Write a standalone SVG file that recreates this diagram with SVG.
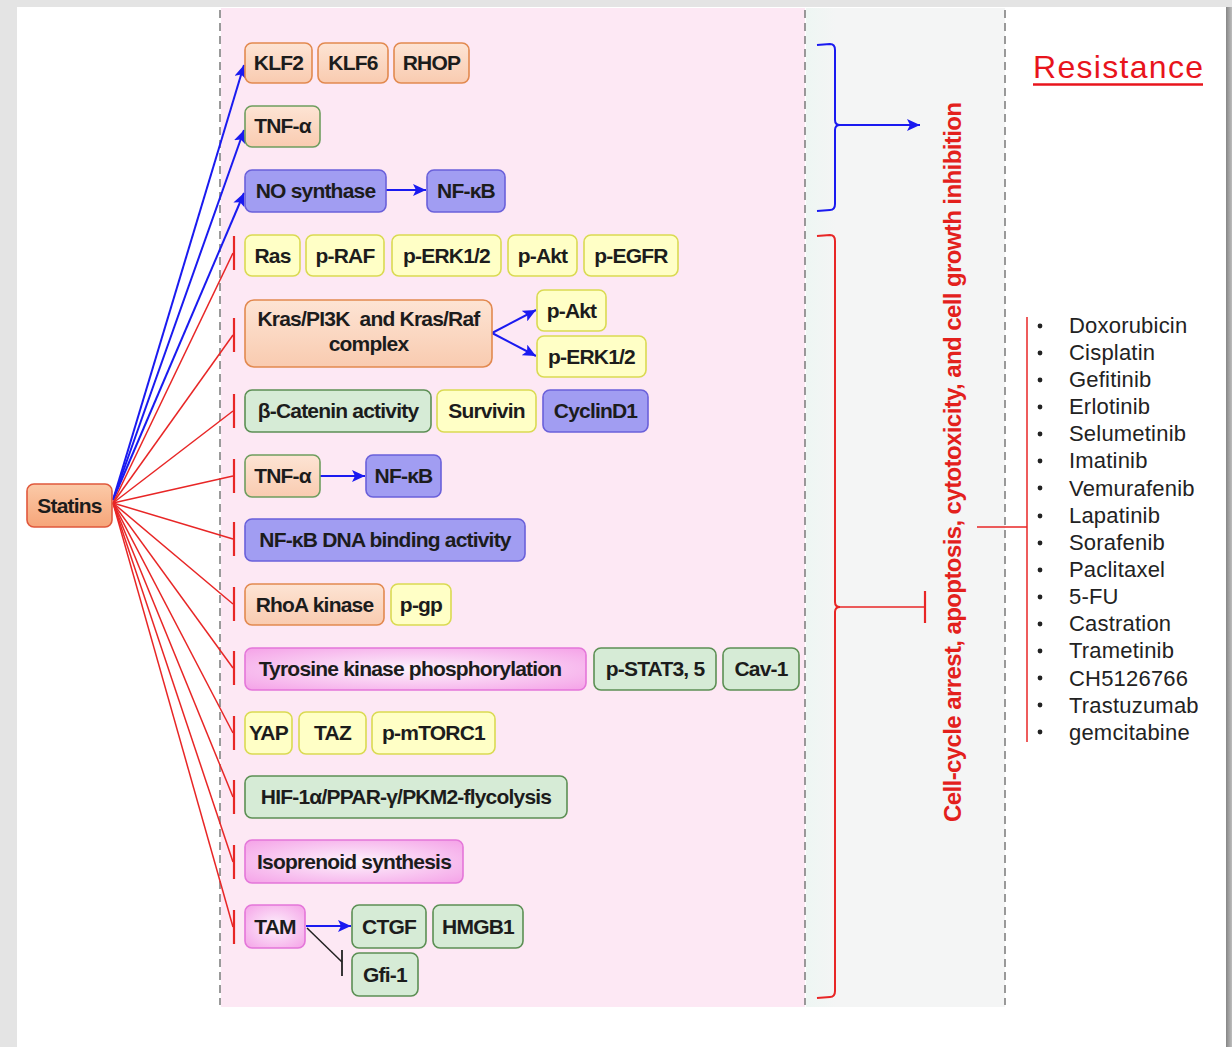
<svg xmlns="http://www.w3.org/2000/svg" width="1232" height="1047" viewBox="0 0 1232 1047">
<defs>
  <linearGradient id="gPeach" x1="0" y1="0" x2="0" y2="1">
    <stop offset="0" stop-color="#fde4d4"/>
    <stop offset="1" stop-color="#f9cbb0"/>
  </linearGradient>
  <linearGradient id="gStatins" x1="0" y1="0" x2="0" y2="1">
    <stop offset="0" stop-color="#fbcaa8"/>
    <stop offset="1" stop-color="#f6a579"/>
  </linearGradient>
  <radialGradient id="gPink" cx="0.5" cy="0.5" r="0.75">
    <stop offset="0" stop-color="#fdf3fc"/>
    <stop offset="1" stop-color="#f49ce6"/>
  </radialGradient>
  <linearGradient id="gEdge" x1="0" y1="0" x2="1" y2="0">
    <stop offset="0" stop-color="#868686"/>
    <stop offset="1" stop-color="#bdbdbd"/>
  </linearGradient>
  <linearGradient id="gSide" x1="0" y1="0" x2="1" y2="0">
    <stop offset="0" stop-color="#eef6f3"/>
    <stop offset="0.15" stop-color="#f4f5f5"/>
    <stop offset="1" stop-color="#f4f5f5"/>
  </linearGradient>
  <marker id="arrowBlue" markerUnits="userSpaceOnUse" markerWidth="14" markerHeight="12" refX="13" refY="6" orient="auto">
    <path d="M0,0 L13,6 L0,12 L3,6 z" fill="#1a1af0"/>
  </marker>
</defs>
<style>
  .box rect { stroke-width: 1.6; }
  .lbl { font-family: "Liberation Sans", Arial, sans-serif; font-weight: bold; font-size: 21px; letter-spacing: -0.8px; fill: #1c1c1c; text-anchor: middle; }
  .peach { fill: url(#gPeach); stroke: #e2894f; }
  .peachG { fill: url(#gPeach); stroke: #6e9d5e; }
  .statins { fill: url(#gStatins); stroke: #e0583c; }
  .yellow { fill: #ffffc6; stroke: #dada52; }
  .purple { fill: #a19df2; stroke: #6a60da; }
  .green { fill: #d6ebd6; stroke: #5c8f54; }
  .pink { fill: url(#gPink); stroke: #e476d9; }
  .act { stroke: #1a1af0; stroke-width: 2; fill: none; marker-end: url(#arrowBlue); }
  .inh { stroke: #e82626; stroke-width: 1.5; fill: none; }
  .bar { stroke: #e82626; stroke-width: 2.2; }
  .dash { stroke: #7a7a7a; stroke-width: 1.5; stroke-dasharray: 8 5; }
  .drug { font-family: "Liberation Sans", Arial, sans-serif; font-size: 22px; letter-spacing: 0.2px; fill: #222; }
</style>

<!-- page frame -->
<rect x="0" y="0" width="1232" height="1047" fill="#e4e4e4"/>
<rect x="17" y="7" width="1209" height="1040" fill="#ffffff"/>
<rect x="1226" y="7" width="6" height="1040" fill="url(#gEdge)"/>

<!-- panels -->
<rect x="221" y="8" width="584" height="999" fill="#fde8f4"/>
<rect x="806" y="8" width="199" height="999" fill="url(#gSide)"/>
<line class="dash" x1="220" y1="10" x2="220" y2="1005"/>
<line class="dash" x1="805" y1="10" x2="805" y2="1005"/>
<line class="dash" x1="1005" y1="10" x2="1005" y2="1005"/>

<!-- connectors -->
<g id="connectors">
  <!-- activation from statins -->
  <line class="act" x1="113" y1="500" x2="244" y2="65"/>
  <line class="act" x1="113" y1="500" x2="244" y2="130"/>
  <line class="act" x1="113" y1="500" x2="244" y2="193"/>
  <!-- inhibition from statins -->
  <line class="inh" x1="113" y1="503" x2="233" y2="253"/>
  <line class="inh" x1="113" y1="503" x2="233" y2="335"/>
  <line class="inh" x1="113" y1="503" x2="233" y2="411"/>
  <line class="inh" x1="113" y1="503" x2="233" y2="476"/>
  <line class="inh" x1="113" y1="503" x2="233" y2="539"/>
  <line class="inh" x1="113" y1="503" x2="233" y2="604"/>
  <line class="inh" x1="113" y1="503" x2="233" y2="668"/>
  <line class="inh" x1="113" y1="503" x2="233" y2="733"/>
  <line class="inh" x1="113" y1="503" x2="233" y2="797"/>
  <line class="inh" x1="113" y1="503" x2="233" y2="862"/>
  <line class="inh" x1="113" y1="503" x2="233" y2="927"/>
  <line class="bar" x1="234" y1="236" x2="234" y2="270"/>
  <line class="bar" x1="234" y1="318" x2="234" y2="352"/>
  <line class="bar" x1="234" y1="394" x2="234" y2="428"/>
  <line class="bar" x1="234" y1="459" x2="234" y2="493"/>
  <line class="bar" x1="234" y1="522" x2="234" y2="556"/>
  <line class="bar" x1="234" y1="587" x2="234" y2="621"/>
  <line class="bar" x1="234" y1="651" x2="234" y2="685"/>
  <line class="bar" x1="234" y1="716" x2="234" y2="750"/>
  <line class="bar" x1="234" y1="780" x2="234" y2="814"/>
  <line class="bar" x1="234" y1="845" x2="234" y2="879"/>
  <line class="bar" x1="234" y1="910" x2="234" y2="944"/>
  <!-- downstream links -->
  <line class="act" x1="386" y1="190" x2="426" y2="190"/>
  <line class="act" x1="492" y1="333" x2="536" y2="310"/>
  <line class="act" x1="492" y1="333" x2="536" y2="356"/>
  <line class="act" x1="320" y1="476" x2="365" y2="476"/>
  <line class="act" x1="306" y1="926" x2="351" y2="926"/>
  <line x1="307" y1="928" x2="342" y2="962" stroke="#222" stroke-width="1.5"/>
  <line x1="342" y1="950" x2="342" y2="976" stroke="#222" stroke-width="1.8"/>
  <!-- group brackets -->
  <path d="M817,45 L830,44 Q835,44 835,50 L835,120 Q835,125 840,125 Q835,125 835,130 L835,204 Q835,210 830,210 L817,211" fill="none" stroke="#1a1af0" stroke-width="2"/>
  <line class="act" x1="836" y1="125" x2="920" y2="125"/>
  <path d="M817,236 L830,235 Q835,235 835,241 L835,602 Q835,607 840,607 Q835,607 835,612 L835,991 Q835,997 830,997 L817,998" fill="none" stroke="#e82626" stroke-width="2"/>
  <line class="inh" x1="836" y1="607" x2="925" y2="607" stroke-width="2"/>
  <line class="bar" x1="925" y1="591" x2="925" y2="623"/>
  <!-- resistance list link -->
  <line class="inh" x1="977" y1="527" x2="1027" y2="527" stroke-width="2"/>
  <line class="inh" x1="1027" y1="317" x2="1027" y2="742" stroke-width="2"/>
</g>

<!-- nodes -->
<g id="statins" class="box"><rect class="statins" x="27" y="484" width="85" height="43" rx="7"/><text class="lbl" x="69.5" y="513">Statins</text></g>

<g id="klf2" class="box"><rect class="peach" x="245" y="43" width="67" height="40" rx="7"/><text class="lbl" x="278.5" y="70">KLF2</text></g>
<g id="klf6" class="box"><rect class="peach" x="318" y="43" width="70" height="40" rx="7"/><text class="lbl" x="353" y="70">KLF6</text></g>
<g id="rhop" class="box"><rect class="peach" x="394" y="43" width="75" height="40" rx="7"/><text class="lbl" x="431.5" y="70">RHOP</text></g>

<g id="tnf1" class="box"><rect class="peachG" x="245" y="106" width="75" height="41" rx="7"/><text class="lbl" x="282.5" y="133">TNF-α</text></g>

<g id="nos" class="box"><rect class="purple" x="245" y="170" width="141" height="42" rx="7"/><text class="lbl" x="315.5" y="198">NO synthase</text></g>
<g id="nfkb1" class="box"><rect class="purple" x="427" y="170" width="78" height="42" rx="7"/><text class="lbl" x="466" y="198">NF-κB</text></g>

<g id="ras" class="box"><rect class="yellow" x="245" y="235" width="55" height="41" rx="7"/><text class="lbl" x="272.5" y="263">Ras</text></g>
<g id="praf" class="box"><rect class="yellow" x="306" y="235" width="78" height="41" rx="7"/><text class="lbl" x="345" y="263">p-RAF</text></g>
<g id="perk1" class="box"><rect class="yellow" x="392" y="235" width="109" height="41" rx="7"/><text class="lbl" x="446.5" y="263">p-ERK1/2</text></g>
<g id="pakt1" class="box"><rect class="yellow" x="508" y="235" width="69" height="41" rx="7"/><text class="lbl" x="542.5" y="263">p-Akt</text></g>
<g id="pegfr" class="box"><rect class="yellow" x="584" y="235" width="94" height="41" rx="7"/><text class="lbl" x="631" y="263">p-EGFR</text></g>

<g id="kras" class="box"><rect class="peach" x="245" y="300" width="247" height="67" rx="9"/><text class="lbl" x="368.5" y="326">Kras/PI3K&#160; and Kras/Raf</text><text class="lbl" x="368.5" y="351">complex</text></g>
<g id="pakt2" class="box"><rect class="yellow" x="537" y="290" width="69" height="41" rx="7"/><text class="lbl" x="571.5" y="318">p-Akt</text></g>
<g id="perk2" class="box"><rect class="yellow" x="537" y="336" width="109" height="41" rx="7"/><text class="lbl" x="591.5" y="364">p-ERK1/2</text></g>

<g id="bcatenin" class="box"><rect class="green" x="245" y="390" width="186" height="42" rx="7"/><text class="lbl" x="338" y="418">β-Catenin activity</text></g>
<g id="survivin" class="box"><rect class="yellow" x="437" y="390" width="99" height="42" rx="7"/><text class="lbl" x="486.5" y="418">Survivin</text></g>
<g id="cyclind1" class="box"><rect class="purple" x="543" y="390" width="105" height="42" rx="7"/><text class="lbl" x="595.5" y="418">CyclinD1</text></g>

<g id="tnf2" class="box"><rect class="peachG" x="245" y="455" width="75" height="42" rx="7"/><text class="lbl" x="282.5" y="483">TNF-α</text></g>
<g id="nfkb2" class="box"><rect class="purple" x="366" y="455" width="75" height="42" rx="7"/><text class="lbl" x="403.5" y="483">NF-κB</text></g>

<g id="nfkbdna" class="box"><rect class="purple" x="245" y="519" width="280" height="42" rx="7"/><text class="lbl" x="385" y="547">NF-κB DNA binding activity</text></g>

<g id="rhoa" class="box"><rect class="peach" x="245" y="584" width="139" height="41" rx="7"/><text class="lbl" x="314.5" y="612">RhoA kinase</text></g>
<g id="pgp" class="box"><rect class="yellow" x="391" y="584" width="60" height="41" rx="7"/><text class="lbl" x="421" y="612">p-gp</text></g>

<g id="tyrosine" class="box"><rect class="pink" x="245" y="648" width="341" height="42" rx="7"/><text class="lbl" x="410" y="676">Tyrosine kinase phosphorylation</text></g>
<g id="pstat" class="box"><rect class="green" x="594" y="648" width="122" height="42" rx="7"/><text class="lbl" x="655" y="676">p-STAT3, 5</text></g>
<g id="cav1" class="box"><rect class="green" x="723" y="648" width="76" height="42" rx="7"/><text class="lbl" x="761" y="676">Cav-1</text></g>

<g id="yap" class="box"><rect class="yellow" x="245" y="712" width="47" height="42" rx="7"/><text class="lbl" x="268.5" y="740">YAP</text></g>
<g id="taz" class="box"><rect class="yellow" x="299" y="712" width="67" height="42" rx="7"/><text class="lbl" x="332.5" y="740">TAZ</text></g>
<g id="pmtorc1" class="box"><rect class="yellow" x="372" y="712" width="123" height="42" rx="7"/><text class="lbl" x="433.5" y="740">p-mTORC1</text></g>

<g id="hif" class="box"><rect class="green" x="245" y="776" width="322" height="42" rx="7"/><text class="lbl" x="406" y="804">HIF-1α/PPAR-γ/PKM2-flycolysis</text></g>

<g id="isoprenoid" class="box"><rect class="pink" x="245" y="840" width="218" height="43" rx="7"/><text class="lbl" x="354" y="869">Isoprenoid synthesis</text></g>

<g id="tam" class="box"><rect class="pink" x="245" y="905" width="60" height="43" rx="7"/><text class="lbl" x="275" y="934">TAM</text></g>
<g id="ctgf" class="box"><rect class="green" x="352" y="905" width="74" height="43" rx="7"/><text class="lbl" x="389" y="934">CTGF</text></g>
<g id="hmgb1" class="box"><rect class="green" x="433" y="905" width="90" height="43" rx="7"/><text class="lbl" x="478" y="934">HMGB1</text></g>
<g id="gfi1" class="box"><rect class="green" x="352" y="953" width="66" height="43" rx="7"/><text class="lbl" x="385" y="982">Gfi-1</text></g>

<!-- outcome label -->
<g id="outcome">
  <text transform="translate(961,462) rotate(-90)" text-anchor="middle" textLength="720" lengthAdjust="spacing" font-family="Liberation Sans, Arial, sans-serif" font-weight="bold" font-size="24" fill="#e3201c">Cell-cycle arrest, apoptosis, cytotoxicity, and cell growth inhibition</text>
</g>

<!-- resistance heading and drug list -->
<g id="resistance">
  <text x="1033" y="78" font-family="Liberation Sans, Arial, sans-serif" font-size="32" letter-spacing="1.3" fill="#e8141c">Resistance</text>
  <line x1="1033" y1="84.5" x2="1203" y2="84.5" stroke="#e8141c" stroke-width="2.6"/>
</g>
<g id="drugs">
  <g fill="#222">
    <circle cx="1040" cy="326" r="2.4"/><circle cx="1040" cy="353" r="2.4"/><circle cx="1040" cy="380" r="2.4"/><circle cx="1040" cy="407" r="2.4"/>
    <circle cx="1040" cy="434" r="2.4"/><circle cx="1040" cy="461" r="2.4"/><circle cx="1040" cy="488" r="2.4"/><circle cx="1040" cy="516" r="2.4"/>
    <circle cx="1040" cy="543" r="2.4"/><circle cx="1040" cy="570" r="2.4"/><circle cx="1040" cy="597" r="2.4"/><circle cx="1040" cy="624" r="2.4"/>
    <circle cx="1040" cy="651" r="2.4"/><circle cx="1040" cy="678" r="2.4"/><circle cx="1040" cy="705" r="2.4"/><circle cx="1040" cy="732" r="2.4"/>
  </g>
  <text class="drug" x="1069" y="333">Doxorubicin</text>
  <text class="drug" x="1069" y="360">Cisplatin</text>
  <text class="drug" x="1069" y="387">Gefitinib</text>
  <text class="drug" x="1069" y="414">Erlotinib</text>
  <text class="drug" x="1069" y="441">Selumetinib</text>
  <text class="drug" x="1069" y="468">Imatinib</text>
  <text class="drug" x="1069" y="496">Vemurafenib</text>
  <text class="drug" x="1069" y="523">Lapatinib</text>
  <text class="drug" x="1069" y="550">Sorafenib</text>
  <text class="drug" x="1069" y="577">Paclitaxel</text>
  <text class="drug" x="1069" y="604">5-FU</text>
  <text class="drug" x="1069" y="631">Castration</text>
  <text class="drug" x="1069" y="658">Trametinib</text>
  <text class="drug" x="1069" y="686">CH5126766</text>
  <text class="drug" x="1069" y="713">Trastuzumab</text>
  <text class="drug" x="1069" y="740">gemcitabine</text>
</g>
</svg>
